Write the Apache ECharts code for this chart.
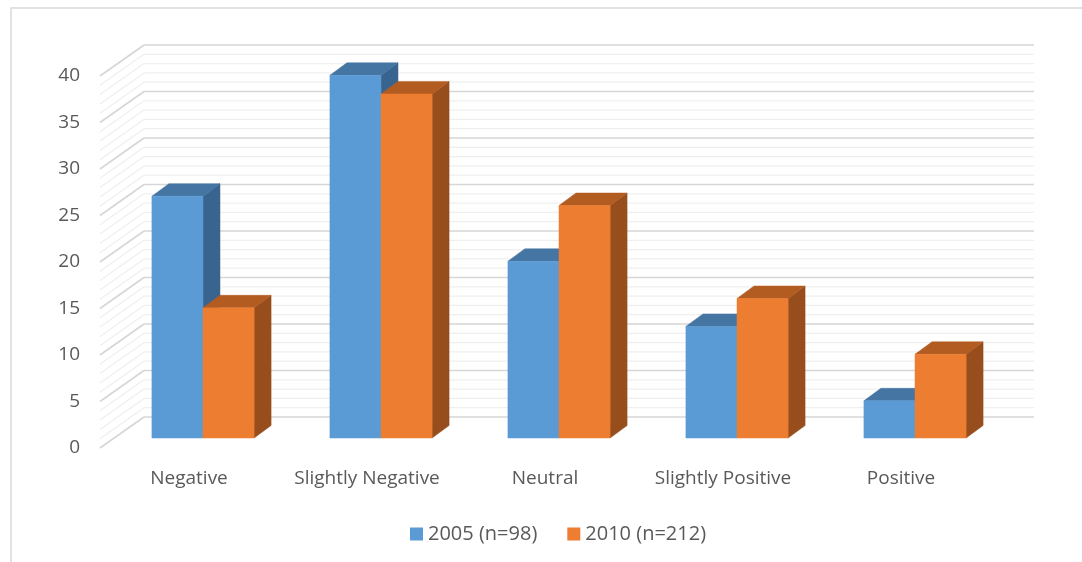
<!DOCTYPE html>
<html>
<head>
<meta charset="utf-8">
<script src="https://cdn.jsdelivr.net/npm/echarts@6/dist/echarts.min.js"></script>
<style>
  html, body { margin: 0; padding: 0; background: #ffffff; }
  #chart { width: 1082px; height: 562px; }
</style>
</head>
<body>
<div id="chart"></div>
<script>
// Survey responses by sentiment, two survey years
const categories = ['Negative', 'Slightly Negative', 'Neutral', 'Slightly Positive', 'Positive'];
const seriesNames = ['2005 (n=98)', '2010 (n=212)'];
const values2005 = [26, 39, 19, 12, 4];
const values2010 = [14, 37, 25, 15, 9];
const yMax = 40;
const yStep = 5;

// Oblique 3D projection offsets (pixels)
const WALL_DX = 44, WALL_DY = -31;      // floor/back-wall depth
const FRONT_DX = 14, FRONT_DY = -10;    // bar front face depth
const BAR_DX = 17, BAR_DY = -12.5;      // bar thickness in depth
const BAR_FRAC = 0.287;                 // bar width relative to band

const palette = [
  { front: '#5B9BD5', top: '#4575A3', side: '#3A6490' },
  { front: '#ED7D31', top: '#B35C22', side: '#974D1C' }
];

// One entry per unit step on the value axis: the walls' grid lines
const wallSteps = [];
for (let v = 0; v <= yMax; v++) wallSteps.push([0, v]);

function renderWall(params, api) {
  const v = api.value(1);
  const cs = params.coordSys;
  const y = api.coord([0, v])[1];
  const x0 = cs.x, x1 = cs.x + cs.width;
  const major = v % yStep === 0;
  const style = { stroke: major ? '#d6d6d6' : '#efefef', lineWidth: major ? 1.6 : 1.2, fill: null };
  return {
    type: 'group',
    children: [
      { type: 'line', shape: { x1: x0, y1: y, x2: x0 + WALL_DX, y2: y + WALL_DY }, style: style },
      { type: 'line', shape: { x1: x0 + WALL_DX, y1: y + WALL_DY, x2: x1 + WALL_DX, y2: y + WALL_DY }, style: style }
    ]
  };
}

function barRenderer(k) {
  const c = palette[k];
  return function (params, api) {
    const idx = api.value(0), v = api.value(1);
    const top = api.coord([idx, v]);
    const base = api.coord([idx, 0]);
    const bw = api.size([1, 0])[0];
    const w = bw * BAR_FRAC;
    const xl = top[0] + (k - 1) * w + FRONT_DX;
    const xr = xl + w;
    const yt = top[1] + FRONT_DY;
    const yb = base[1] + FRONT_DY;
    return {
      type: 'group',
      children: [
        {
          type: 'polygon',
          shape: { points: [[xr, yt], [xr + BAR_DX, yt + BAR_DY], [xr + BAR_DX, yb + BAR_DY], [xr, yb]] },
          style: { fill: c.side, stroke: c.side, lineWidth: 0.5 }
        },
        {
          type: 'polygon',
          shape: { points: [[xl, yt], [xr, yt], [xr + BAR_DX, yt + BAR_DY], [xl + BAR_DX, yt + BAR_DY]] },
          style: { fill: c.top, stroke: c.top, lineWidth: 0.5 }
        },
        {
          type: 'rect',
          shape: { x: xl, y: yt, width: w, height: yb - yt },
          style: { fill: c.front, stroke: c.front, lineWidth: 0.5 }
        }
      ]
    };
  };
}

const chart = echarts.init(document.getElementById('chart'), null, { renderer: 'canvas' });
const fontFamily = '"Open Sans", "Noto Sans", sans-serif';

chart.setOption({
  backgroundColor: '#ffffff',
  animation: false,
  graphic: [{
    type: 'rect',
    shape: { x: 11, y: 8, width: 1100, height: 600 },
    style: { fill: null, stroke: '#d9d9d9', lineWidth: 1.5 },
    silent: true
  }],
  grid: { left: 100, right: 92, top: 76, bottom: 114, containLabel: false },
  legend: {
    data: seriesNames.map((n) => ({ name: n, icon: 'rect' })),
    left: 405,
    top: 519,
    itemWidth: 13,
    itemHeight: 13,
    itemGap: 30,
    textStyle: { color: '#595959', fontSize: 20, fontFamily: fontFamily }
  },
  xAxis: {
    type: 'category',
    data: categories,
    axisLine: { show: false },
    axisTick: { show: false },
    splitLine: { show: false },
    axisLabel: { interval: 0, color: '#595959', fontSize: 19, fontFamily: fontFamily, margin: 21 }
  },
  yAxis: {
    type: 'value',
    min: 0,
    max: yMax,
    interval: yStep,
    axisLine: { show: false },
    axisTick: { show: false },
    splitLine: { show: false },
    axisLabel: { color: '#595959', fontSize: 19, fontFamily: fontFamily, margin: 20 }
  },
  series: [
    {
      type: 'custom',
      name: 'wall',
      silent: true,
      renderItem: renderWall,
      data: wallSteps,
      z: 1
    },
    {
      type: 'custom',
      name: seriesNames[0],
      renderItem: barRenderer(0),
      itemStyle: { color: palette[0].front },
      data: values2005.map((v, i) => [i, v]),
      z: 2
    },
    {
      type: 'custom',
      name: seriesNames[1],
      renderItem: barRenderer(1),
      itemStyle: { color: palette[1].front },
      data: values2010.map((v, i) => [i, v]),
      z: 2
    }
  ]
});
</script>
</body>
</html>
